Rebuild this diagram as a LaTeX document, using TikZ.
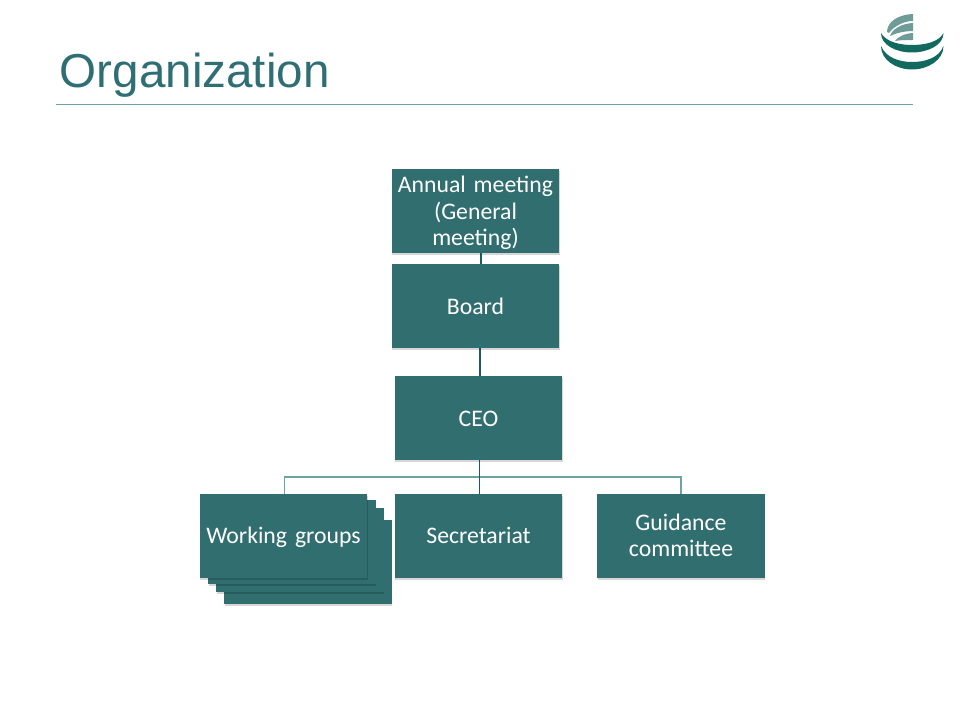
\documentclass[tikz,border=0pt]{standalone}
\usepackage{fontspec}
\setmainfont[WordSpace=0.5]{Carlito}
\newfontfamily\titlefont{Liberation Sans}
\usetikzlibrary{shadows}
\definecolor{boxteal}{HTML}{316E70}
\definecolor{titleteal}{HTML}{2F6F73}
\definecolor{ruleteal}{HTML}{6FA3A1}
\definecolor{darkline}{HTML}{1D5A5C}
\definecolor{logodark}{HTML}{12695F}
\definecolor{logolight}{HTML}{6F9C98}
\newcommand\linestrut{\rule[-5.2pt]{0pt}{19.7pt}}
\newcommand\firststrut{\rule[-5.2pt]{0pt}{22.7pt}}
\tikzset{
  x=0.75pt,y=-0.75pt,
  orgbox/.style={rectangle,fill=boxteal,draw=none,text=white,minimum width=125.5pt,minimum height=63pt,
    inner sep=0pt,align=center,font=\fontsize{17.8}{19.7}\selectfont,text width=125.5pt,
    drop shadow={shadow xshift=0.4pt,shadow yshift=-1.5pt,opacity=0.16,fill=black}},
  stackbox/.style={orgbox},
  link/.style={draw=darkline,line width=0.9pt},
  buslink/.style={draw=darkline,line width=0.6pt},
  busline/.style={draw=ruleteal,line width=1pt},
  crescent/.style={fill=logodark,draw=none},
  band/.style={fill=logolight,draw=none}
}
\begin{document}
\begin{tikzpicture}
\useasboundingbox[fill=white] (0,0) rectangle (960,720);
\node[anchor=base west,text=titleteal,font=\titlefont\fontsize{35.7}{40}\selectfont,inner sep=0pt] (title) at (59.5,88) {Organization};
\coordinate (rl) at (56,104.5);
\coordinate (rr) at (913,104.5);
\draw[draw=ruleteal,line width=0.9pt] (rl) -- (rr);

% connectors
\node[orgbox] (annual) at (475.5,211) {\firststrut Annual meeting\\\linestrut(General\\\linestrut meeting)};
\coordinate (annualdrop) at (481,253);
\coordinate (boardtop) at (481,264);
\coordinate (boarddrop) at (480,348);
\coordinate (ceotop) at (480,376);
\coordinate (ceodrop) at (479.5,460);
\coordinate (bus) at (479.5,477);
\coordinate (wgtop) at (284.5,494);
\coordinate (sectop) at (479.5,494);
\coordinate (guidtop) at (681,494);
\draw[link] (annualdrop) -- (boardtop);
\draw[link] (boarddrop) -- (ceotop);
\draw[busline] (bus) -| (wgtop);
\draw[busline] (bus) -| (guidtop);
\draw[link] (ceodrop) -- (bus);
\draw[buslink] (bus) -- (sectop);

\node[orgbox] (board) at (475.5,306) {\firststrut Board};
\node[orgbox] (ceo) at (478.5,418) {\firststrut CEO};
\node[stackbox] (wgd) at (308,562) {};
\node[stackbox] (wgc) at (300,550) {};
\node[stackbox] (wgb) at (292,542) {};
\node[orgbox] (wg) at (283.5,535.5) {\firststrut Working groups};
\node[orgbox] (sec) at (478.5,535.5) {\firststrut Secretariat};
\node[orgbox] (guid) at (681,535.5) {\firststrut Guidance\\\linestrut committee};

% logo
\fill[crescent] (881,33) .. controls (886,42) and (900,45) .. (912,45) .. controls (925,45) and (939,42) .. (943.5,33) .. controls (943.5,45) and (928,52.5) .. (912,52.5) .. controls (896,52.5) and (881,45) .. (881,33) -- cycle;
\fill[crescent] (881,46) .. controls (886,58) and (900,62) .. (912,62) .. controls (925,62) and (939,58) .. (943.5,46) .. controls (943.5,60) and (928,69.5) .. (912,69.5) .. controls (896,69.5) and (881,60) .. (881,46) -- cycle;
\fill[band] (887,32) .. controls (887,22) and (898,14.5) .. (913,14) -- (913,21) .. controls (904,21) and (894,26) .. (889,33) -- cycle;
\fill[band] (890,36) .. controls (892,29) and (902,23.5) .. (913,23) -- (913,31) .. controls (905,31) and (896,33) .. (890,36) -- cycle;
\fill[band] (895,41) .. controls (898,36.5) and (905,33.5) .. (913,33) -- (913,40) .. controls (906,40) and (900,40) .. (895,41) -- cycle;
\end{tikzpicture}
\end{document}
